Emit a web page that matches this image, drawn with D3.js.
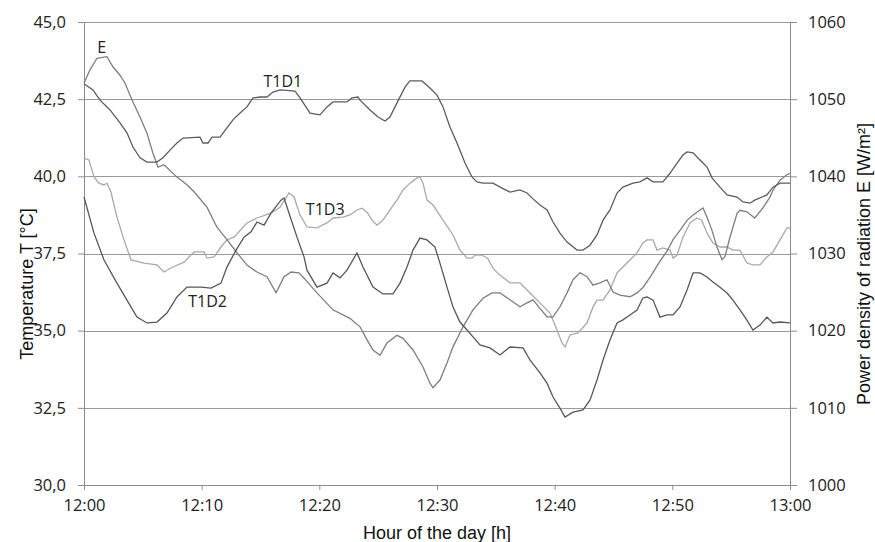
<!DOCTYPE html>
<html>
<head>
<meta charset="utf-8">
<script src="https://cdn.jsdelivr.net/npm/d3@7"></script>
<style>
  body { margin: 0; background: #fff; }
  .tick text { font-family: "Open Sans", sans-serif; font-size: 16.5px; fill: #222; }
  .title { font-family: "Liberation Sans", Arial, sans-serif; font-size: 18px; fill: #111; }
  .lbl { font-family: "Open Sans", sans-serif; font-size: 16px; fill: #222; }
</style>
</head>
<body>
<script>
// minutes after 12:00, value (temperature in degC, E in W/m2)
var t1d1 = [[0,43.0],[0.76,42.8],[1.36,42.47],[2.21,42.15],[3.06,41.73],[3.65,41.41],[4.16,40.95],[4.76,40.6],
  [5.35,40.46],[6.2,40.46],[6.71,40.6],[7.31,40.85],[7.9,41.08],[8.41,41.24],[9.86,41.27],[10.11,41.08],
  [10.54,41.08],[10.88,41.27],[11.56,41.27],[12.15,41.57],[12.66,41.83],[13.26,42.05],[13.85,42.25],[14.36,42.54],
  [14.96,42.57],[15.55,42.57],[16.06,42.73],[16.66,42.8],[17.93,42.76],[18.36,42.54],[19.21,42.05],[20.06,41.99],
  [20.65,42.25],[21.16,42.41],[22.35,42.41],[22.78,42.54],[23.29,42.57],[23.46,42.47],[24.31,42.15],[24.99,41.92],
  [25.58,41.79],[26.0,41.92],[26.6,42.38],[27.28,42.89],[27.7,43.09],[28.72,43.09],[29.4,42.86],[30.0,42.63],
  [30.51,42.25],[31.1,41.6],[31.7,41.08],[32.38,40.43],[32.97,39.98],[33.4,39.82],[33.91,39.78],[34.76,39.78],
  [35.52,39.62],[36.2,39.49],[37.05,39.56],[37.65,39.46],[38.16,39.27],[38.75,39.07],[39.35,38.91],[39.86,38.52],
  [40.45,38.16],[41.05,37.87],[41.9,37.61],[42.41,37.61],[43.0,37.77],[43.6,38.1],[44.11,38.58],[44.7,38.91],
  [45.3,39.46],[45.8,39.65],[46.66,39.78],[47.25,39.82],[47.85,39.95],[48.36,39.82],[49.2,39.82],[49.8,40.1],
  [50.4,40.43],[50.9,40.69],[51.25,40.79],[51.76,40.76],[52.35,40.53],[52.95,40.3],[53.37,39.95],[54.05,39.65],
  [54.65,39.4],[55.5,39.33],[56.0,39.17],[56.6,39.13],[57.0,39.23],[58.04,39.4],[58.55,39.65],[59.15,39.78],[60,39.78]];

var t1d2 = [[0,39.33],[0.85,38.16],[1.7,37.29],[2.8,36.54],[3.65,35.99],[4.5,35.44],[5.35,35.25],[6.2,35.28],
  [7.05,35.57],[7.9,36.09],[8.75,36.41],[9.94,36.41],[10.79,36.38],[11.64,36.54],[12.15,37.06],[12.92,37.61],
  [13.6,38.03],[14.19,38.2],[14.7,38.52],[15.3,38.42],[15.89,38.81],[16.74,39.23],[17.0,39.3],[17.42,38.81],
  [18.1,38.03],[18.7,37.39],[18.95,36.96],[19.8,36.41],[20.65,36.54],[21.16,36.87],[21.76,36.71],[22.35,36.96],
  [23.2,37.52],[23.71,37.06],[24.56,36.41],[25.41,36.19],[26.26,36.19],[26.86,36.54],[27.45,37.06],[27.96,37.61],
  [28.55,38.0],[29.15,37.94],[29.83,37.71],[30.25,37.19],[30.85,36.41],[31.36,35.77],[31.95,35.28],[32.55,35.02],
  [33.06,34.8],[33.65,34.54],[34.5,34.44],[35.35,34.21],[36.2,34.47],[37.31,34.44],[37.9,34.05],[38.75,33.63],
  [39.35,33.3],[39.86,32.85],[40.45,32.49],[40.88,32.2],[41.56,32.36],[42.41,32.43],[43.0,32.75],[43.6,33.4],
  [44.11,34.05],[44.7,34.7],[45.3,35.25],[45.8,35.35],[46.4,35.51],[47.0,35.67],[47.5,36.06],[47.85,36.09],
  [48.36,35.99],[48.95,35.44],[49.55,35.51],[50.06,35.51],[50.65,35.77],[51.25,36.32],[51.76,36.87],[52.35,36.87],
  [52.95,36.74],[53.45,36.58],[54.05,36.41],[54.65,36.22],[55.15,35.99],[55.75,35.67],[56.34,35.34],[56.85,35.02],
  [57.45,35.18],[58.04,35.44],[58.55,35.25],[59.15,35.28],[60,35.25]];

var t1d3 = [[0,40.59],[0.42,40.53],[0.85,39.98],[1.27,39.78],[1.7,39.72],[1.95,39.78],[2.29,39.49],[2.8,38.68],
  [3.4,37.94],[4.0,37.29],[5.1,37.19],[6.2,37.13],[6.8,36.9],[7.39,37.03],[8.5,37.22],[9.35,37.55],[10.2,37.55],
  [10.45,37.35],[11.05,37.39],[11.64,37.71],[12.15,37.94],[12.75,38.03],[13.85,38.49],[14.7,38.65],[15.89,38.81],
  [16.66,39.0],[17.42,39.46],[17.85,39.33],[18.36,38.75],[18.95,38.36],[19.8,38.33],[20.65,38.49],[21.16,38.65],
  [22.0,38.68],[22.6,38.75],[23.2,38.91],[23.63,38.97],[24.05,38.84],[24.48,38.58],[24.9,38.42],[25.41,38.58],
  [26.0,38.91],[26.6,39.23],[27.11,39.56],[27.7,39.78],[28.3,39.95],[28.55,39.98],[28.81,39.78],[29.15,39.23],
  [29.66,39.07],[30.51,38.58],[31.36,38.1],[31.95,37.61],[32.55,37.35],[32.97,37.35],[33.23,37.45],[33.8,37.45],
  [34.3,37.35],[34.8,37.0],[35.35,36.8],[36.2,36.55],[37.05,36.55],[37.9,36.22],[38.75,35.9],[39.6,35.57],
  [40.2,35.02],[40.62,34.6],[40.88,34.47],[41.3,34.86],[41.98,34.93],[42.75,35.25],[43.26,35.77],[43.6,35.99],
  [44.11,35.99],[44.7,36.32],[45.3,36.87],[45.8,37.06],[46.4,37.29],[47.0,37.52],[47.5,37.84],[47.85,37.94],
  [48.36,37.94],[48.7,37.61],[49.2,37.68],[49.8,37.61],[50.06,37.35],[50.4,37.45],[50.9,38.03],[51.5,38.49],
  [52.09,38.65],[52.5,38.58],[52.95,38.16],[53.45,37.84],[54.05,37.71],[54.65,37.71],[55.15,37.61],[55.75,37.61],
  [56.34,37.19],[56.85,37.13],[57.45,37.13],[58.04,37.39],[58.55,37.55],[59.15,37.94],[59.74,38.33],[60,38.33]];

var radE = [[0,1052.1],[0.51,1053.8],[1.1,1055.3],[1.95,1055.5],[2.46,1054.2],[3.06,1053.1],[3.48,1052.1],
  [4.08,1049.9],[4.76,1047.7],[5.35,1045.6],[5.86,1043.0],[6.29,1041.2],[6.8,1041.5],[7.9,1039.9],[8.75,1038.9],
  [9.35,1038.0],[10.45,1036.0],[11.3,1033.4],[12.15,1031.8],[13.0,1030.1],[13.85,1028.5],[14.7,1027.6],
  [15.55,1027.0],[16.32,1024.9],[17.0,1027.0],[17.6,1027.6],[18.27,1027.5],[18.7,1026.8],[19.8,1024.9],
  [21.16,1022.7],[22.6,1021.6],[23.46,1020.5],[24.05,1018.8],[24.56,1017.5],[25.16,1016.8],[25.75,1018.4],
  [26.6,1019.4],[27.11,1019.0],[27.96,1017.5],[28.81,1015.3],[29.4,1013.2],[29.66,1012.6],[30.25,1013.6],
  [30.85,1015.8],[31.36,1017.9],[32.21,1020.5],[33.06,1022.7],[33.91,1024.2],[34.67,1024.9],[35.35,1024.9],
  [36.2,1024.0],[37.05,1023.1],[37.65,1023.6],[38.16,1024.0],[38.75,1022.9],[39.35,1021.8],[39.86,1021.8],
  [40.45,1023.1],[41.05,1024.9],[41.56,1026.6],[42.15,1027.5],[42.75,1027.0],[43.26,1025.9],[43.85,1026.2],
  [44.45,1026.6],[44.96,1025.0],[45.55,1024.6],[46.4,1024.4],[47.0,1024.9],[47.5,1025.6],[48.1,1026.9],
  [48.95,1029.0],[49.55,1030.3],[50.06,1031.8],[50.65,1033.0],[51.25,1034.3],[51.76,1035.0],[52.6,1035.9],
  [52.95,1034.7],[53.37,1033.0],[53.8,1030.8],[54.22,1029.2],[54.47,1029.6],[54.9,1032.1],[55.5,1035.2],
  [55.75,1035.6],[56.34,1035.4],[57.0,1034.6],[57.7,1035.9],[58.3,1037.3],[58.55,1038.2],[59.15,1039.5],
  [59.74,1040.2],[60,1040.4]];

var timeLabels = ["12:00", "12:10", "12:20", "12:30", "12:40", "12:50", "13:00"];
var tempTicks = [30, 32.5, 35, 37.5, 40, 42.5, 45];
var radTicks = [1000, 1010, 1020, 1030, 1040, 1050, 1060];

var W = 875, H = 542;
var mLeft = 84, mRight = 790, mTop = 22, mBottom = 485;

var svg = d3.select('body').append('svg')
  .attr('width', W)
  .attr('height', H);

var x = d3.scaleLinear().domain([0, 60]).range([mLeft, mRight]);
var yT = d3.scaleLinear().domain([30, 45]).range([mBottom, mTop]);
var yE = d3.scaleLinear().domain([1000, 1060]).range([mBottom, mTop]);

// grid
svg.append('g')
  .selectAll('line')
  .data(tempTicks.slice(1))
  .enter().append('line')
  .attr('x1', mLeft).attr('x2', mRight)
  .attr('y1', d => Math.round(yT(d)) + 0.5).attr('y2', d => Math.round(yT(d)) + 0.5)
  .style('stroke', '#9a9a9a')
  .style('stroke-width', 1);

var fmt = d => d3.format('.1f')(d).replace('.', ',');

var gL = svg.append('g')
  .attr('transform', 'translate(' + mLeft + ',0)')
  .call(d3.axisLeft(yT).tickValues(tempTicks).tickFormat(fmt).tickSize(6).tickPadding(12));

var gR = svg.append('g')
  .attr('transform', 'translate(' + mRight + ',0)')
  .call(d3.axisRight(yE).tickValues(radTicks).tickFormat(d3.format('d')).tickSize(7).tickPadding(11));

var gB = svg.append('g')
  .attr('transform', 'translate(0,' + mBottom + ')')
  .call(d3.axisBottom(x).tickValues(d3.range(0, 61, 10)).tickFormat((d, i) => timeLabels[i]).tickSize(5).tickPadding(9));

[gL, gR, gB].forEach(g => {
  g.selectAll('path, line').style('stroke', '#8c8c8c');
});
gL.select('.domain').attr('d', 'M0.5,' + mTop + 'V' + mBottom);
gR.select('.domain').attr('d', 'M0.5,' + mTop + 'V' + mBottom);
gB.select('.domain').attr('d', 'M' + mLeft + ',0.5H' + mRight);

// series
var lineT = d3.line().x(d => x(d[0])).y(d => yT(d[1]));
var lineE = d3.line().x(d => x(d[0])).y(d => yE(d[1]));

var series = [
  {data: t1d3, gen: lineT, color: '#a9a9a9'},
  {data: radE, gen: lineE, color: '#7e7e7e'},
  {data: t1d2, gen: lineT, color: '#575757'},
  {data: t1d1, gen: lineT, color: '#5c5c5c'}
];

series.forEach(s => {
  svg.append('path')
    .attr('d', s.gen(s.data))
    .style('fill', 'none')
    .style('stroke', s.color)
    .style('stroke-width', 1.3);
});

// series labels
var labels = [
  {text: 'E', mx: 1.5, ty: 44.0},
  {text: 'T1D1', mx: 16.9, ty: 42.9},
  {text: 'T1D3', mx: 20.5, ty: 38.75},
  {text: 'T1D2', mx: 10.5, ty: 35.77}
];
svg.append('g')
  .selectAll('text')
  .data(labels)
  .enter().append('text')
  .attr('class', 'lbl')
  .attr('x', d => x(d.mx))
  .attr('y', d => yT(d.ty))
  .attr('text-anchor', 'middle')
  .text(d => d.text);

// axis titles
svg.append('text')
  .attr('class', 'title')
  .attr('x', 437)
  .attr('y', 539)
  .attr('text-anchor', 'middle')
  .text('Hour of the day [h]');

svg.append('text')
  .attr('class', 'title')
  .attr('transform', 'translate(33,284) rotate(-90)')
  .attr('text-anchor', 'middle')
  .text('Temperature T [°C]');

svg.append('text')
  .attr('class', 'title')
  .attr('transform', 'translate(870,264) rotate(-90)')
  .attr('text-anchor', 'middle')
  .text('Power density of radiation E [W/m²]');
</script>
</body>
</html>
